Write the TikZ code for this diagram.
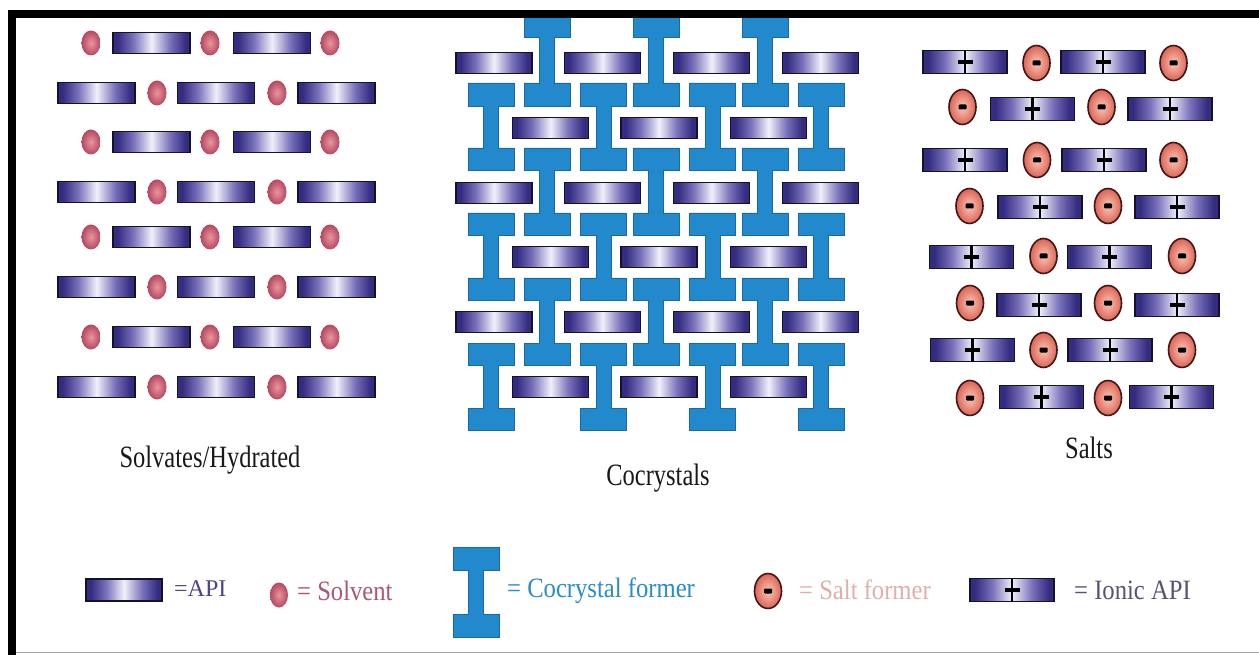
\documentclass[tikz,border=0pt]{standalone}
\usepackage{fontspec}
\setmainfont{Liberation Serif}
\usepackage{graphicx}
\usetikzlibrary{shapes.geometric}
\definecolor{apidark}{RGB}{52,44,128}
\definecolor{apimid}{RGB}{120,112,185}
\definecolor{apilight}{RGB}{240,240,250}
\definecolor{apiedge}{RGB}{20,18,40}
\definecolor{solvin}{RGB}{232,150,158}
\definecolor{solvout}{RGB}{182,72,96}
\definecolor{saltin}{RGB}{250,198,182}
\definecolor{saltout}{RGB}{220,100,86}
\definecolor{saltedge}{RGB}{65,22,22}
\definecolor{ccblue}{RGB}{33,137,204}
\definecolor{ccedge}{RGB}{25,105,165}
\definecolor{txapi}{RGB}{75,70,135}
\definecolor{txsolv}{RGB}{170,90,110}
\definecolor{txcc}{RGB}{40,140,200}
\definecolor{txsalt}{RGB}{225,175,170}
\definecolor{txion}{RGB}{85,85,115}
\pgfdeclarehorizontalshading{apish}{100bp}{color(0bp)=(apidark); color(25bp)=(apidark); color(28bp)=(apidark); color(38bp)=(apimid); color(50bp)=(apilight); color(62bp)=(apimid); color(72bp)=(apidark); color(75bp)=(apidark); color(100bp)=(apidark)}
\tikzset{
 apibox/.style={draw=apiedge, line width=1.5pt, shading=apish},
 solvball/.style={ellipse, inner sep=0pt, minimum width=19pt, minimum height=25pt, inner color=solvin, outer color=solvout},
 saltball/.style={ellipse, draw=saltedge, line width=1.6pt, inner sep=0pt, minimum width=27pt, minimum height=35pt, inner color=saltin, outer color=saltout},
 ibeamshape/.style={fill=ccblue, draw=ccedge, line width=0.6pt},
 lbl/.style={font=\fontsize{31}{35}\selectfont, text=black!90, inner sep=0pt, anchor=base},
 leg/.style={font=\fontsize{28}{32}\selectfont, inner sep=0pt, anchor=base west},
}
\newcommand{\apiRect}[4]{\draw[apibox] ({#1-#3/2},{#2-#4/2}) rectangle ({#1+#3/2},{#2+#4/2});}
\newcommand{\ionR}[2]{\apiRect{#1}{#2}{84}{23}\draw[line width=2.8pt] (#1,{#2-11.5}) -- (#1,{#2+11.5}); \draw[line width=3.8pt] ({#1-7.5},#2) -- ({#1+7.5},#2);}
\newcommand{\solv}[2]{\node[solvball] at (#1,#2) {};}
\newcommand{\saltf}[2]{\node[saltball] at (#1,#2) {}; \fill[black, rounded corners=1pt] ({#1-4},{#2-2.5}) rectangle ({#1+4},{#2+2.5});}
\newcommand{\ibeam}[5]{\draw[ibeamshape] ({#1-23},#2) -- ({#1+23},#2) -- ({#1+23},#3) -- ({#1+7.5},#3) -- ({#1+7.5},#4) -- ({#1+23},#4) -- ({#1+23},#5) -- ({#1-23},#5) -- ({#1-23},#4) -- ({#1-7.5},#4) -- ({#1-7.5},#3) -- ({#1-23},#3) -- cycle;}
\begin{document}
\begin{tikzpicture}[x=1pt,y=-1pt]
\fill[white] (0,0) rectangle (1259,655);
\useasboundingbox (0,0) rectangle (1259,655);
% ---------- Solvates ----------
\foreach \y in {43,142,237,337}{
  \solv{91}{\y}\solv{210}{\y}\solv{330}{\y}
  \apiRect{151.5}{\y}{77}{21}\apiRect{272}{\y}{77}{21}
}
\foreach \y in {93,192,287,387}{
  \apiRect{96.5}{\y}{77}{21}\apiRect{216}{\y}{77}{21}\apiRect{336.5}{\y}{77}{21}
  \solv{157}{\y}\solv{277}{\y}
}
\node[lbl] (solvlab) at (210,467) {\scalebox{0.79}[1]{Solvates/Hydrated}};
% ---------- Cocrystals ----------
\foreach \x in {491,603.5,712.5,821}{
  \ibeam{\x}{83}{106}{148}{170}
  \ibeam{\x}{213}{235}{278}{300}
  \ibeam{\x}{343}{365}{408}{430}
}
\foreach \x in {547,656,765}{
  \ibeam{\x}{14}{37}{83}{106}
  \ibeam{\x}{148}{170}{213}{235}
  \ibeam{\x}{278}{300}{343}{365}
}
\foreach \y in {63,193,322}{
  \foreach \x in {494,602.5,711.5,820.5}{\apiRect{\x}{\y}{76}{21}}
}
\foreach \y in {128,257,387}{
  \foreach \x in {550.5,659,768.5}{\apiRect{\x}{\y}{76}{21}}
}
\node[lbl] (cclab) at (658,485) {\scalebox{0.79}[1]{Cocrystals}};
% ---------- Salts ----------
\ionR{965}{62}\saltf{1036.5}{63}\ionR{1103}{62}\saltf{1173.5}{63}
\saltf{962.5}{107}\ionR{1032.5}{109}\saltf{1101.5}{107}\ionR{1170}{109}
\ionR{965}{160}\saltf{1037}{160}\ionR{1104}{160}\saltf{1173.5}{160}
\saltf{969.5}{206}\ionR{1040}{207}\saltf{1108}{206}\ionR{1177}{207}
\ionR{971.5}{257}\saltf{1043.5}{256}\ionR{1109.5}{257}\saltf{1182}{256}
\saltf{970}{303}\ionR{1039}{305}\saltf{1108}{303}\ionR{1177}{305}
\ionR{972.5}{350}\saltf{1043.5}{350}\ionR{1110}{350}\saltf{1182}{350}
\saltf{970}{398}\ionR{1041.5}{397}\saltf{1108}{398}\ionR{1171.5}{397}
\node[lbl] (saltlab) at (1089,458) {\scalebox{0.79}[1]{Salts}};
% ---------- Legend ----------
\apiRect{124}{590}{76}{22}
\node[leg, text=txapi, font=\fontsize{24}{28}\selectfont] (l1) at (174,596) {=API};
\node[solvball, minimum width=18pt] (l2s) at (279,595) {};
\node[leg, text=txsolv] (l2) at (297,600) {\scalebox{0.88}[1]{= Solvent}};
\ibeam{476}{547}{570}{614}{637}
\node[leg, text=txcc] (l3) at (507,597) {\scalebox{0.88}[1]{= Cocrystal former}};
\saltf{768}{591}
\node[leg, text=txsalt] (l4) at (799,599) {\scalebox{0.88}[1]{= Salt former}};
\ionR{1012}{590}
\node[leg, text=txion] (l5) at (1074,599) {\scalebox{0.88}[1]{= Ionic API}};
% ---------- Frame ----------
\fill[black] (8,10) rectangle (1259,18);
\fill[black] (8,10) rectangle (16,655);
\draw[black!35, line width=1pt] (16,652.5) -- (1259,652.5);
\end{tikzpicture}
\end{document}
